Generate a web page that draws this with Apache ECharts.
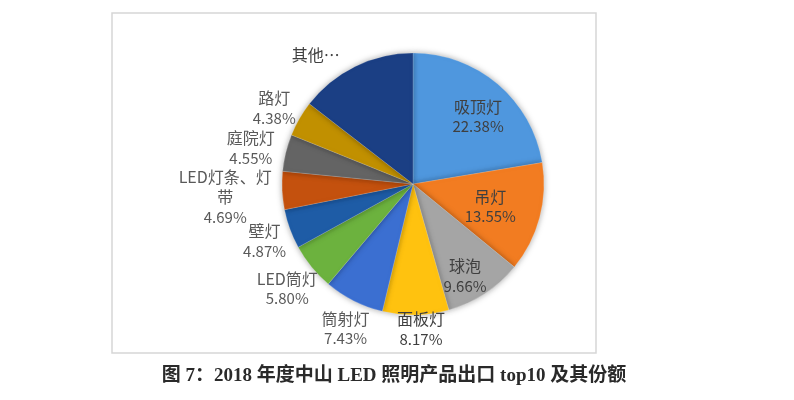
<!DOCTYPE html>
<html>
<head>
<meta charset="utf-8">
<script src="https://cdn.jsdelivr.net/npm/echarts@6/dist/echarts.min.js"></script>
<style>html,body{margin:0;padding:0;background:#fff;}#c{width:794px;height:400px;}</style>
</head>
<body>
<div id="c"></div>
<script>
// Data
const categories = ['吸顶灯', '吊灯', '球泡', '面板灯', '筒射灯', 'LED筒灯', '壁灯', 'LED灯条、灯\n带', '庭院灯', '路灯', '其他…'];
const shares = [22.38, 13.55, 9.66, 8.17, 7.43, 5.80, 4.87, 4.69, 4.55, 4.38, 14.52];
const showPercent = [true, true, true, true, true, true, true, true, true, true, false];
const captionText = '图 7：2018 年度中山 LED 照明产品出口 top10 及其份额';

// Styles
const colors = ['#4f97de', '#f27c21', '#a5a5a5', '#ffc20f', '#3b6fd1', '#6cb23e', '#1e5ca6', '#c4510e', '#646464', '#c19000', '#1b3f84'];
const labelLen = [-35, -51, -27, 14, 29, 34, 27, 57, 36, 29, 31];
const labelDx = [3, 0, -5, 5, 5, 2, 0, 0, 0, 0, -26];
const labelDy = [6, 2, 5, 0, 2, 0, 3, 4, 4, 4, 16];
const labelColor = ['#3f3f3f', '#3f3f3f', '#3f3f3f', '#3f3f3f', '#595959', '#595959', '#595959', '#595959', '#595959', '#595959', '#404040'];

const data = categories.map((name, i) => ({
  name: name,
  value: shares[i],
  itemStyle: { color: colors[i] },
  label: { color: labelColor[i] },
  labelLine: { show: false, length: labelLen[i], length2: 0 }
}));

function labelText(p) {
  const i = p.dataIndex;
  const nameLines = categories[i].split('\n').map(s => '{n|' + s + '}').join('\n');
  return showPercent[i] ? nameLines + '\n{p|' + shares[i].toFixed(2) + '%}' : nameLines;
}

const chart = echarts.init(document.getElementById('c'), null, { renderer: 'canvas' });
chart.setOption({
  backgroundColor: '#ffffff',
  animation: false,
  graphic: [
    {
      type: 'rect',
      shape: { x: 112, y: 13, width: 484, height: 340 },
      style: { fill: 'none', stroke: '#d6d6d6', lineWidth: 1.5 },
      z: -1
    },
    {
      type: 'text',
      x: 394,
      y: 376,
      style: {
        text: captionText,
        font: 'bold 19px "Liberation Serif", "Noto Sans CJK SC", serif',
        fill: '#2a2a2a',
        align: 'center',
        verticalAlign: 'middle'
      }
    }
  ],
  series: [{
    type: 'pie',
    center: [413, 184],
    radius: 131,
    startAngle: 90,
    clockwise: true,
    avoidLabelOverlap: false,
    itemStyle: {
      borderColor: 'rgba(255,255,255,0.35)',
      borderWidth: 0.5,
      shadowBlur: 6,
      shadowColor: 'rgba(0,0,0,0.35)'
    },
    label: {
      show: true,
      position: 'outside',
      distanceToLabelLine: 0,
      formatter: labelText,
      fontFamily: '"Noto Sans CJK SC", sans-serif',
      rich: {
        n: { fontFamily: '"Noto Sans CJK SC", sans-serif', fontSize: 16, lineHeight: 20 },
        p: { fontFamily: '"Noto Sans CJK SC", sans-serif', fontSize: 15, lineHeight: 20 }
      }
    },
    labelLayout: function (params) {
      const i = params.dataIndex;
      return { align: 'center', verticalAlign: 'middle', dx: labelDx[i], dy: labelDy[i] };
    },
    data: data
  }]
});
</script>
</body>
</html>
